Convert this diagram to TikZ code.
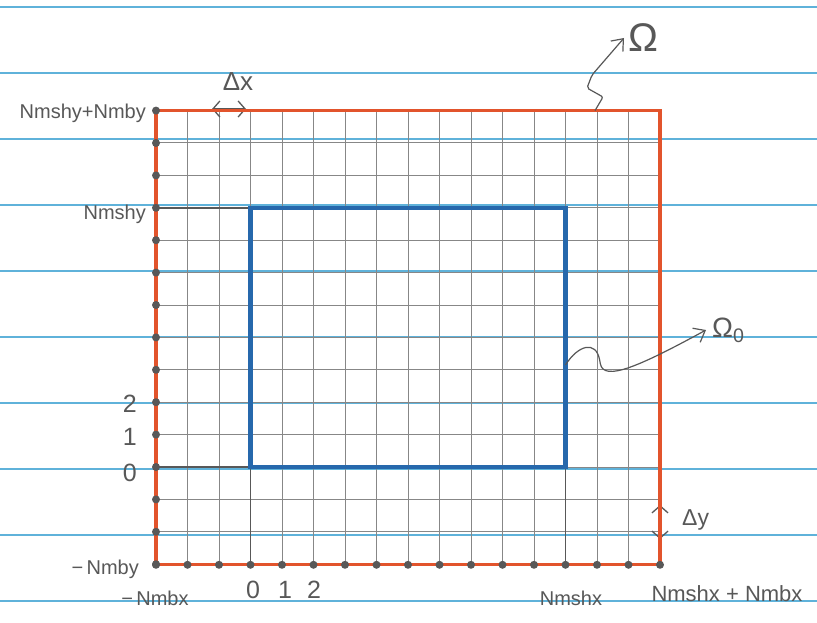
\documentclass[tikz,border=0pt]{standalone}
\usepackage{fontspec}
\setmainfont{Liberation Sans}
\usepackage{xcolor}
\usepackage{tikz}
\usetikzlibrary{arrows.meta}
\definecolor{paperblue}{RGB}{95,178,218}
\definecolor{penred}{RGB}{226,84,44}
\definecolor{penblue}{RGB}{38,104,172}
\definecolor{pencil}{RGB}{135,135,135}
\definecolor{graphite}{RGB}{88,88,88}

\begin{document}
\begin{tikzpicture}[x=1pt, y=-1pt,
  paper/.style={paperblue, line width=1.6pt},
  gridln/.style={pencil, line width=1pt},
  darkln/.style={graphite, line width=1.4pt},
  outerbox/.style={penred, line width=3.2pt},
  innerbox/.style={penblue, line width=4.6pt},
  gdot/.style={circle, fill=graphite, inner sep=0pt, minimum size=8pt},
  lbl/.style={text=graphite, inner sep=1pt, font=\fontsize{20}{24}\selectfont},
  num/.style={lbl, font=\fontsize{25}{28}\selectfont},
  greek/.style={text=graphite, inner sep=0pt},
  arr/.style={graphite, line width=1.2pt, rounded corners=2pt,
              -{Straight Barb[length=10pt, width=16pt]}},
  dbl/.style={graphite, line width=1.3pt,
              {Straight Barb[length=7pt, width=16pt]}-{Straight Barb[length=7pt, width=16pt]}}]
\useasboundingbox (0,0) rectangle (817,623);
\fill[white] (0,0) rectangle (817,623);
% lined paper
\foreach \k in {0,...,9}
  \draw[paper] (0,{7+66*\k}) -- (817,{7+66*\k});
% corners of the domains
\coordinate (bl) at (156,564.8);
\coordinate (tr) at (660,110.6);
\coordinate (o) at (250.5,467);
\coordinate (m) at (565.5,207.8);
% mesh
\foreach \c in {-2,...,12}
  \draw[gridln] ({250.5+31.5*\c},110.6) -- ({250.5+31.5*\c},564.8);
\foreach \r in {-2,...,10}
  \draw[gridln] (156,{467-32.4*\r}) -- (660,{467-32.4*\r});
\draw[darkln] (bl |- o) -- (o);
\draw[darkln] (bl |- m) -- (o |- m);
\draw[darkln] (o |- bl) -- (o);
\draw[darkln] (m |- bl) -- (m |- o);
% steps
\coordinate (dxa) at (212,109);
\coordinate (dxb) at (246,109);
\draw[dbl] (dxa) -- (dxb);
\node[greek, font=\fontsize{26}{30}\selectfont] (dx) at (238,82) {Δx};
\coordinate (dya) at (660,505);
\coordinate (dyb) at (660,539);
\draw[dbl] (dya) -- (dyb);
\node[greek, anchor=west, font=\fontsize{23}{26}\selectfont] (dy) at (682,520) {Δy};
% Omega_0 and Omega
\draw[innerbox] (o) rectangle (m);
\draw[outerbox] (bl) rectangle (tr);
\foreach \r in {-3,...,11}
  \node[gdot] (ly\r) at (156,{467-32.4*\r}) {};
\foreach \c in {-3,...,13}
  \node[gdot] (bx\c) at ({250.5+31.5*\c},564.8) {};
% y labels
\node[lbl, anchor=east] (ntop) at (147,113) {Nmshy+Nmby};
\node[lbl, anchor=east] (nshy) at (147,214) {Nmshy};
\node[num, anchor=east] (y2) at (138,404) {2};
\node[num, anchor=east] (y1) at (138,437) {1};
\node[num, anchor=east] (y0) at (138,473) {0};
\node[lbl, anchor=east] (nby) at (140,569) {−\,Nmby};
% x labels
\node[lbl] (nbx) at (155,598) {−\,Nmbx};
\node[num] (x0) at (253,590) {0};
\node[num] (x1) at (285,590) {1};
\node[num] (x2) at (314,590) {2};
\node[lbl] (nshx) at (571,598) {Nmshx};
\node[lbl, font=\fontsize{22}{26}\selectfont] (nsum) at (727,594) {Nmshx + Nmbx};
% domain names
\node[greek, anchor=west, font=\fontsize{40}{44}\selectfont] (om) at (628,38) {Ω};
\coordinate (omS) at (595,110.6);
\draw[arr] (omS) -- (603,97) -- (587,88) -- (592,75) -- ([xshift=-4pt]om.west);
\node[greek, anchor=west, font=\fontsize{28}{30}\selectfont] (om0) at (712,330) {Ω\textsubscript{0}};
\coordinate (om0S) at (565.5,365);
\draw[arr] (om0S) .. controls (578,345) and (596,340) .. (600,362)
  .. controls (604,382) and (640,366) .. ([xshift=-6pt]om0.west);
\end{tikzpicture}
\end{document}
